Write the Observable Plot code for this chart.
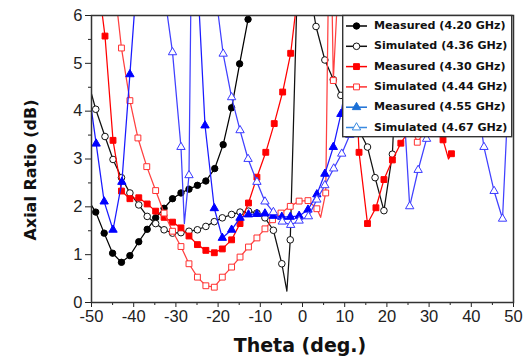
<!DOCTYPE html>
<html><head><meta charset="utf-8">
<script src="https://cdn.jsdelivr.net/npm/d3@7"></script>
<script src="https://cdn.jsdelivr.net/npm/@observablehq/plot@0.6"></script>
<style>body{margin:0;background:#fff}#chart svg{display:block}</style>
</head><body><div id="chart"></div>
<script>
// ---- data (theta in deg, axial ratio in dB) ----
// Measured 4.20 GHz
const m420_theta = [-49.0,-47.0,-45.0,-42.9,-40.9,-38.8,-36.8,-34.8,-32.8,-30.8,-28.8,-26.9,-24.9,-22.9,-20.8,-18.8,-16.8,-14.9,-12.9];
const m420_ar    = [1.89,1.45,1.03,0.84,0.98,1.27,1.53,1.77,1.97,2.17,2.29,2.37,2.45,2.54,2.80,3.30,4.07,4.99,5.92];
const m420_curveTheta = [-50.0,-10.9];
const m420_curveAR    = [2.03,6.9];
// Simulated 4.36 GHz
const s436_theta = [-49.0,-46.8,-44.9,-42.9,-40.9,-38.8,-36.8,-34.8,-32.8,-30.8,-28.8,-26.9,-24.9,-22.9,-20.9,-19.0,-16.8,-14.8,-12.8,-10.8,-8.9,-6.9,-4.9,-2.9,3.2,5.3,7.3,9.1,15.4,17.2,19.3,21.3];
const s436_ar    = [4.04,3.47,2.99,2.61,2.29,2.04,1.80,1.65,1.52,1.45,1.46,1.49,1.52,1.59,1.69,1.77,1.84,1.89,1.91,1.87,1.77,1.51,0.81,1.31,5.77,5.07,4.66,4.33,3.25,2.61,1.92,3.10];
const s436_curveTheta = [-50.0,-3.7,-0.8,1.3,11.2,13.3,23.3];
const s436_curveAR    = [4.36,0.24,8.0,6.8,3.98,3.62,7.0];
// Measured 4.30 GHz
const m430_theta = [-46.8,-44.9,-42.9,-40.9,-38.8,-36.8,-34.8,-32.8,-30.8,-28.8,-26.9,-24.9,-22.9,-20.9,-19.0,-16.8,-14.8,-12.8,-10.8,-8.7,-6.7,-4.7,-2.8,13.4,15.4,17.4,19.3,21.3,23.3,33.3,35.3];
const m430_ar    = [5.57,3.39,2.33,2.17,2.19,2.06,1.91,1.78,1.68,1.56,1.39,1.21,1.09,1.04,1.12,1.31,1.65,2.08,2.62,3.14,3.74,4.40,5.21,3.14,1.65,1.98,2.57,2.98,3.33,3.40,3.11];
const m430_curveTheta = [-49.0,-0.8,11.4,25.3,27.3,29.3,31.3,34.6];
const m430_curveAR    = [7.1,6.7,7.0,3.6,3.9,4.3,5.0,3.00];
// Simulated 4.44 GHz
const s444_theta = [-42.9,-40.9,-39.0,-36.9,-34.8,-32.8,-30.8,-28.8,-26.9,-24.9,-22.9,-20.9,-19.0,-16.8,-14.8,-12.8,-10.8,-8.9,-7.1,-5.1,-2.9,-0.8,1.3,3.4,5.5,7.3,27.2];
const s444_ar    = [5.32,4.22,3.44,2.84,2.34,1.87,1.49,1.17,0.81,0.53,0.35,0.32,0.53,0.74,0.95,1.16,1.35,1.54,1.73,1.87,2.01,2.12,2.13,1.96,2.29,4.64,3.35];
const s444_curveTheta = [-44.9,4.3,6.5,9.2,25.2,29.2];
const s444_curveAR    = [6.9,1.78,9.0,8.0,3.8,3.6];
// Measured 4.55 GHz
const m455_theta = [-48.9,-47.0,-44.9,-42.8,-40.9,-23.1,-20.9,-19.0,-16.8,-14.8,-12.8,-10.8,-8.9,-6.9,-4.9,-2.9,-0.8,1.3,3.4,5.3,7.3,9.1];
const m455_ar    = [3.32,2.11,1.52,2.52,4.77,3.70,1.97,1.35,1.52,1.77,1.84,1.85,1.86,1.81,1.79,1.79,1.81,1.94,2.26,2.69,3.25,3.94];
const m455_curveTheta = [-50.0,-38.9,-25.0,11.1];
const m455_curveAR    = [4.02,7.2,7.0,5.0];
// Simulated 4.67 GHz
const s467_theta = [-30.8,-28.8,-26.9,-18.8,-16.8,-14.8,-12.9,-10.8,-8.9,-6.9,-4.8,-2.8,-0.8,1.4,3.4,5.3,7.4,9.3,11.2,25.4,27.4,29.4,43.0,45.4,47.4];
const s467_ar    = [5.23,3.25,2.66,5.20,4.29,3.60,3.00,2.52,2.11,1.89,1.69,1.62,1.71,1.80,2.15,2.45,2.80,3.11,3.50,2.01,2.77,3.42,3.25,2.33,1.75];
const s467_curveTheta = [-32.8,-28.0,-26.3,-20.8,23.4,31.4,41.0,49.4];
const s467_curveAR    = [6.5,1.65,7.5,6.6,5.0,4.5,4.5,5.5];

const legendLabels = ["Measured (4.20 GHz)","Simulated (4.36 GHz)","Measured (4.30 GHz)","Simulated (4.44 GHz)","Measured (4.55 GHz)","Simulated (4.67 GHz)"];
const xTicks = [-50,-40,-30,-20,-10,0,10,20,30,40,50];
const yTicks = [0,1,2,3,4,5,6];

// ---- build ----
const specs = [
  {t:m420_theta,a:m420_ar,ct:m420_curveTheta,ca:m420_curveAR,color:"#000",line:"#000",sym:"circle",filled:true,r:3.2},
  {t:s436_theta,a:s436_ar,ct:s436_curveTheta,ca:s436_curveAR,color:"#111",line:"#111",sym:"circle",filled:false,r:3.3},
  {t:m430_theta,a:m430_ar,ct:m430_curveTheta,ca:m430_curveAR,color:"#ff0000",line:"#ff0000",sym:"square",filled:true,r:3.3},
  {t:s444_theta,a:s444_ar,ct:s444_curveTheta,ca:s444_curveAR,color:"#ff3030",line:"#ff4040",sym:"square",filled:false,r:3.3},
  {t:m455_theta,a:m455_ar,ct:m455_curveTheta,ca:m455_curveAR,color:"#0000ff",line:"#1a1aff",sym:"triangle",filled:true,r:3.1},
  {t:s467_theta,a:s467_ar,ct:s467_curveTheta,ca:s467_curveAR,color:"#3a3aff",line:"#4040ff",sym:"triangle",filled:false,r:3.1}
];
const marks = [];
specs.forEach((s,i) => {
  const pts = s.t.map((t,j)=>({theta:t, ar:s.a[j]}));
  const curve = pts.concat(s.ct.map((t,j)=>({theta:t, ar:s.ca[j]}))).sort((p,q)=>p.theta-q.theta);
  marks.push(Plot.line(curve,{x:"theta",y:"ar",stroke:s.line,strokeWidth:1.25,clip:true}));
  marks.push(Plot.dot(pts,{x:"theta",y:"ar",symbol:s.sym,r:s.r,fill:s.filled?s.color:"white",stroke:s.color,strokeWidth:1,clip:true}));
});

const fmt = v => String(v);
const chart = Plot.plot({
  width:531, height:362,
  marginLeft:91, marginRight:18, marginTop:15, marginBottom:60,
  style:{fontFamily:"'Liberation Sans', Arial, sans-serif", fontSize:"16px", color:"#222", background:"#fff"},
  x:{domain:[-50,50]},
  y:{domain:[0,6]},
  marks:[
    ...marks,
    Plot.axisX({ticks:xTicks, tickFormat:fmt, tickSize:5, tickPadding:3, label:null, fontSize:16.5}),
    Plot.axisX({ticks:d3.range(-45,50,10), tickSize:3, text:null, label:null}),
    Plot.axisY({ticks:yTicks, tickFormat:fmt, tickSize:6, tickPadding:3, label:null, fontSize:16.5}),
    Plot.axisY({ticks:d3.range(0.5,6,1), tickSize:3, text:null, label:null}),
    Plot.frame({stroke:"#333", strokeWidth:1.5})
  ]
});
document.getElementById("chart").appendChild(chart);

const svg = d3.select(chart);
svg.append("text").attr("transform","translate(31,170) rotate(-90)").attr("text-anchor","middle")
  .attr("dominant-baseline","middle").style("font","bold 16px 'DejaVu Sans'").attr("fill","#111").text("Axial Ratio (dB)");
svg.append("text").attr("x",300).attr("y",346).attr("text-anchor","middle")
  .attr("dominant-baseline","middle").style("font","bold 19px 'DejaVu Sans'").attr("fill","#111").text("Theta (deg.)");

// legend
const lg = svg.append("g").attr("text-anchor","start");
lg.append("rect").attr("x",342.7).attr("y",15.5).attr("width",169).attr("height",121.2)
  .attr("fill","#ffffff").attr("stroke","#333").attr("stroke-width",1.4);
const legendColors = ["#000","#111","#ff0000","#ff3030","#1a6fd6","#3a8ae0"];
specs.forEach((s,i)=>{
  const y = 26 + i*20.3;
  lg.append("line").attr("x1",346).attr("x2",367).attr("y1",y).attr("y2",y).attr("stroke",legendColors[i]).attr("stroke-width",1.5);
  lg.append("path").attr("d",d3.symbol(s.sym==="circle"?d3.symbolCircle:s.sym==="square"?d3.symbolSquare:d3.symbolTriangle, Math.PI*s.r*s.r)())
    .attr("transform",`translate(356.5,${y})`).attr("fill",s.filled?legendColors[i]:"white").attr("stroke",legendColors[i]).attr("stroke-width",1);
  lg.append("text").attr("x",374).attr("y",y).attr("text-anchor","start").attr("dominant-baseline","middle")
    .style("font","bold 11.1px 'DejaVu Sans'").attr("fill","#111").text(legendLabels[i]);
});
</script>
</body></html>
